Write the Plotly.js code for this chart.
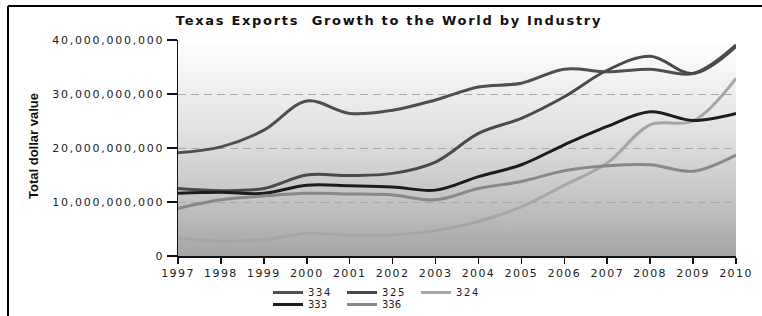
<!DOCTYPE html>
<html>
<head>
<meta charset="utf-8">
<script src="https://cdn.plot.ly/plotly-3.0.1.min.js"></script>
<style>
  html, body { margin: 0; padding: 0; background: #fff; }
  #chart { width: 762px; height: 316px; }
  .xtick text { letter-spacing: 1.4px; }
  .ytick text { letter-spacing: 1.75px; }
  .legendtext { letter-spacing: 1.6px; }
  .gtitle { letter-spacing: 1.7px; }
</style>
</head>
<body>
<div id="chart"></div>
<script>
// Years on the x axis
const years = [1997, 1998, 1999, 2000, 2001, 2002, 2003, 2004, 2005, 2006, 2007, 2008, 2009, 2010];

// Export values per industry (billions of dollars)
const s334 = [19.1, 20.2, 23.3, 28.7, 26.4, 27.0, 28.9, 31.3, 32.0, 34.6, 34.1, 34.6, 33.8, 39.1];
const s325 = [12.5, 12.1, 12.5, 15.0, 14.9, 15.3, 17.4, 22.7, 25.5, 29.5, 34.4, 37.0, 33.8, 38.8];
const s333 = [11.6, 11.8, 11.6, 13.1, 13.0, 12.8, 12.2, 14.7, 16.9, 20.6, 24.0, 26.7, 25.1, 26.4];
const s336 = [8.8, 10.4, 11.1, 11.6, 11.5, 11.3, 10.4, 12.5, 13.8, 15.8, 16.7, 16.9, 15.7, 18.7];
const s324 = [3.3, 2.8, 3.0, 4.2, 3.8, 3.9, 4.7, 6.4, 9.1, 13.1, 17.2, 24.3, 25.0, 32.9];

// Y axis ticks (values in billions) and their labels
const yTickVals = [0, 10, 20, 30, 40];
const yTickText = ["0", "10,000,000,000", "20,000,000,000", "30,000,000,000", "40,000,000,000"];

const seriesNames = ["334", "325", "324", "333", "336"];

const mk = (name, y, color, legend) => ({
  type: 'scatter', mode: 'lines', name: name, x: years, y: y,
  line: { color: color, width: 3, shape: 'spline', smoothing: 1 },
  legend: legend, hoverinfo: 'skip'
});

const traces = [
  mk(seriesNames[0], s334, '#4f4f4f', 'legend'),
  mk(seriesNames[1], s325, '#4a4a4a', 'legend'),
  mk(seriesNames[2], s324, '#a6a6a6', 'legend'),
  mk(seriesNames[3], s333, '#1c1c1c', 'legend2'),
  mk(seriesNames[4], s336, '#888888', 'legend2')
];

const gradSvg = '<svg xmlns="http://www.w3.org/2000/svg" width="100" height="100" preserveAspectRatio="none">' +
  '<defs><linearGradient id="g" x1="0" y1="0" x2="0" y2="1">' +
  '<stop offset="0" stop-color="#ffffff"/><stop offset="0.4" stop-color="#e3e3e3"/>' +
  '<stop offset="0.7" stop-color="#c8c8c8"/><stop offset="1" stop-color="#a5a5a5"/>' +
  '</linearGradient></defs><rect width="100" height="100" fill="url(#g)"/></svg>';
const gradUri = 'data:image/svg+xml;base64,' + btoa(gradSvg);

const tickFont = { family: 'DejaVu Sans', size: 11, color: '#222' };
const legendFont = { family: 'DejaVu Sans', size: 10, color: '#222' };

const legendCommon = {
  orientation: 'h', xref: 'container', yref: 'container',
  xanchor: 'left', yanchor: 'middle',
  font: legendFont, bgcolor: 'rgba(0,0,0,0)', borderwidth: 0,
  entrywidth: 29, entrywidthmode: 'pixels', itemwidth: 30
};

const layout = {
  width: 762, height: 316,
  margin: { l: 178, r: 26, t: 40, b: 60 },
  paper_bgcolor: '#ffffff',
  plot_bgcolor: 'rgba(0,0,0,0)',
  title: {
    text: 'Texas Exports  Growth to the World by Industry',
    font: { family: 'DejaVu Sans', size: 13, color: '#111', weight: 'bold' },
    xref: 'container', x: 389 / 762, xanchor: 'center',
    yref: 'container', y: 1 - 20 / 316, yanchor: 'middle'
  },
  xaxis: {
    range: [1997, 2010], tickmode: 'linear', tick0: 1997, dtick: 1,
    showgrid: false, zeroline: false,
    showline: true, linecolor: '#111', linewidth: 1.5,
    ticks: 'outside', ticklen: 6, tickwidth: 1.5, tickcolor: '#111',
    tickfont: tickFont
  },
  yaxis: {
    range: [0, 40], tickmode: 'array', tickvals: yTickVals, ticktext: yTickText,
    showgrid: true, gridcolor: '#a9a9a9', gridwidth: 1, griddash: '8px,5px',
    zeroline: false,
    showline: true, linecolor: '#111', linewidth: 1.5,
    ticks: 'outside', ticklen: 10, tickwidth: 1.5, tickcolor: '#111',
    tickfont: tickFont
  },
  showlegend: true,
  legend: Object.assign({}, legendCommon, { x: 268 / 762, y: 1 - 292.5 / 316 }),
  legend2: Object.assign({}, legendCommon, { x: 268 / 762, y: 1 - 304.5 / 316 }),
  images: [{
    source: gradUri, xref: 'paper', yref: 'paper', x: 0, y: 1,
    sizex: 1, sizey: 1, sizing: 'stretch', xanchor: 'left', yanchor: 'top', layer: 'below'
  }],
  annotations: [{
    text: 'Total dollar value', textangle: -90, showarrow: false,
    xref: 'paper', yref: 'paper', x: (33 - 178) / 558, y: (256 - 146) / 216,
    xanchor: 'center', yanchor: 'middle',
    font: { family: 'Liberation Sans Narrow, Arial Narrow, Liberation Sans', size: 13, color: '#111', weight: 'bold' }
  }],
  shapes: [
    { type: 'line', xref: 'paper', yref: 'paper', x0: (8 - 178) / 558, x1: (8 - 178) / 558,
      y0: (256 - 6) / 216, y1: (256 - 320) / 216, line: { color: '#000', width: 2 } },
    { type: 'line', xref: 'paper', yref: 'paper', x0: (8 - 178) / 558, x1: (770 - 178) / 558,
      y0: (256 - 6) / 216, y1: (256 - 6) / 216, line: { color: '#000', width: 2 } }
  ]
};

Plotly.newPlot('chart', traces, layout, { staticPlot: true, displayModeBar: false });
</script>
</body>
</html>
